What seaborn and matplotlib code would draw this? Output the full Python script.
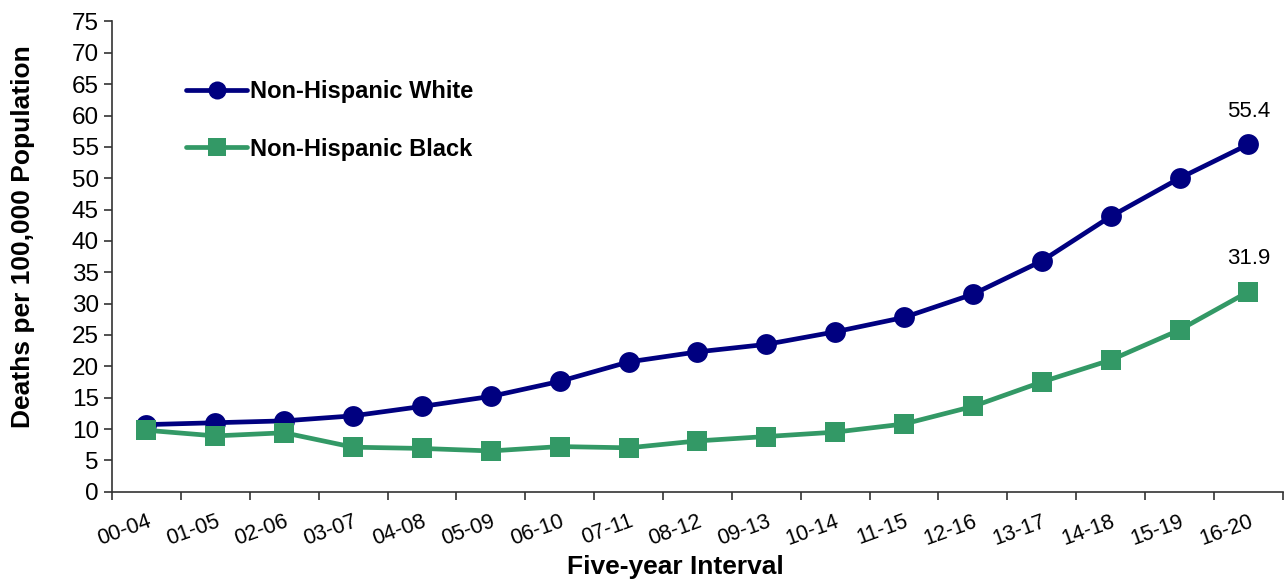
import numpy as np
import pandas as pd
import matplotlib
matplotlib.use("Agg")
import matplotlib.pyplot as plt
import seaborn as sns

# data
intervals = ["00-04", "01-05", "02-06", "03-07", "04-08", "05-09", "06-10", "07-11",
             "08-12", "09-13", "10-14", "11-15", "12-16", "13-17", "14-18", "15-19", "16-20"]
white = [10.7, 11.0, 11.3, 12.1, 13.6, 15.2, 17.6, 20.7, 22.3, 23.5, 25.5, 27.8,
         31.5, 36.8, 43.9, 50.0, 55.4]
black = [9.8, 8.9, 9.4, 7.1, 6.9, 6.5, 7.2, 7.0, 8.1, 8.8, 9.5, 10.8,
         13.6, 17.5, 21.0, 25.8, 31.9]
groups = ["Non-Hispanic White", "Non-Hispanic Black"]
colors = ["#000080", "#339966"]

df = pd.DataFrame({
    "pos": list(range(len(intervals))) * 2,
    "rate": white + black,
    "group": [groups[0]] * len(white) + [groups[1]] * len(black),
})

sns.set_style("ticks")
plt.rcParams["font.family"] = ["Liberation Sans", "DejaVu Sans"]
plt.rcParams["text.color"] = "black"
plt.rcParams["axes.labelcolor"] = "black"
plt.rcParams["xtick.color"] = "black"
plt.rcParams["ytick.color"] = "black"

fig = plt.figure(figsize=(12.88, 5.81), dpi=100)
ax = fig.add_axes([0.087, 0.1537, 0.909, 0.8093])

sns.lineplot(data=df, x="pos", y="rate", hue="group", style="group",
             hue_order=groups, style_order=groups, palette=colors,
             markers={groups[0]: "o", groups[1]: "s"}, dashes=False,
             linewidth=3.4, markersize=15, markeredgewidth=0, ax=ax)

# end labels
for vals in (white, black):
    ax.annotate(f"{vals[-1]:.1f}", (len(vals) - 1, vals[-1]), xytext=(0, 16),
                textcoords="offset points", ha="center", va="bottom", fontsize=16)

ax.set_ylim(0, 75)
ax.set_yticks(np.arange(0, 80, 5))
ax.set_xlim(-0.5, len(intervals) - 0.5)
ax.set_xticks(np.arange(-0.5, len(intervals), 1))
ax.set_xticklabels([])
ax.set_xticks(np.arange(len(intervals)), minor=True)
ax.set_xticklabels(intervals, minor=True, rotation=20, ha="right",
                   rotation_mode="anchor", fontsize=15.5)
ax.tick_params(axis="x", which="minor", length=0, pad=14)
ax.tick_params(axis="x", which="major", length=6, width=1.2, color="#333333")
ax.tick_params(axis="y", length=6, width=1.2, color="#333333", labelsize=17.5)

for s in ("top", "right"):
    ax.spines[s].set_visible(False)
for s in ("left", "bottom"):
    ax.spines[s].set_color("#333333")
    ax.spines[s].set_linewidth(1.2)

ax.set_xlabel("Five-year Interval", fontsize=19, fontweight="bold")
ax.set_ylabel("Deaths per 100,000 Population", fontsize=19, fontweight="bold")
ax.xaxis.set_label_coords(0.481, -0.135)
ax.yaxis.set_label_coords(-0.066, 0.542)

leg = ax.legend(loc="upper left", bbox_to_anchor=(0.045, 0.92), frameon=False,
                handlelength=2.6, handletextpad=0.1, labelspacing=1.45,
                prop={"size": 17, "weight": "bold"})
for h in leg.legend_handles:
    h.set_markersize(13)

fig.savefig("out.png", dpi=100)
